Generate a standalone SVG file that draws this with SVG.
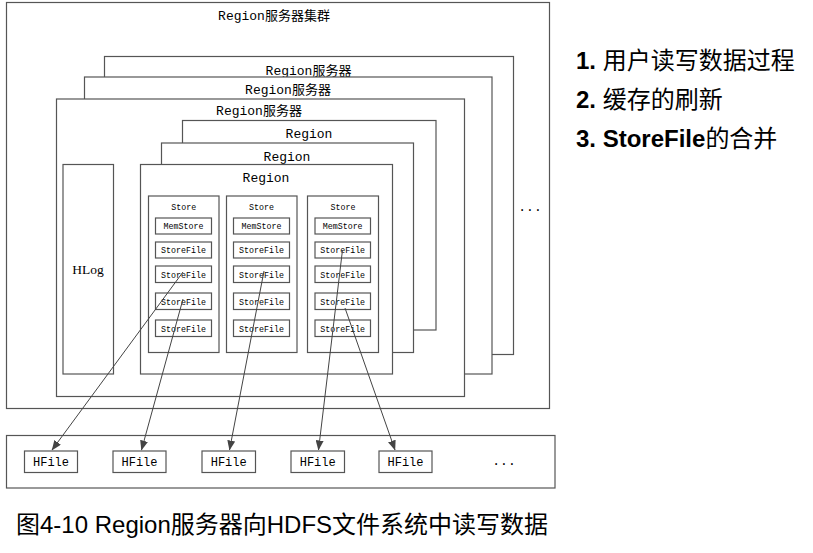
<svg xmlns="http://www.w3.org/2000/svg" width="813" height="553" viewBox="0 0 813 553">
<defs>
<style>
.box{fill:#fff;stroke:#555;stroke-width:1.2}
.t{font-family:"Liberation Mono","Noto Sans CJK SC",monospace;fill:#000;text-anchor:middle}
.lbl{font-size:13px}
.sm{font-size:8.3px}
.hf{font-size:12px}
.conn{stroke:#444;stroke-width:1;fill:none;marker-end:url(#ah)}
.cap{font-family:"Liberation Sans","Noto Sans CJK SC",sans-serif;fill:#000}
.cjk{font-family:"Noto Sans CJK SC",sans-serif;font-weight:normal}
</style>
<marker id="ah" markerUnits="userSpaceOnUse" markerWidth="10" markerHeight="8" refX="9.5" refY="4" orient="auto" viewBox="0 0 10 8"><path d="M0,0 L10,4 L0,8 z" fill="#444"/></marker>
</defs>
<rect width="813" height="553" fill="#fff"/>

<g id="cluster">
<rect class="box" x="6.5" y="2.5" width="543" height="406"/>
<text class="t lbl" x="274" y="20">Region服务器集群</text>
<text class="t lbl" x="530" y="211">...</text>
</g>

<g id="server3">
<rect class="box" x="104.5" y="56.5" width="409" height="298"/>
<text class="t lbl" x="308.5" y="75">Region服务器</text>
</g>
<g id="server2">
<rect class="box" x="84.5" y="77" width="407.5" height="297"/>
<text class="t lbl" x="288" y="94">Region服务器</text>
</g>
<g id="server1">
<rect class="box" x="56.5" y="99" width="408" height="297.5"/>
<text class="t lbl" x="259" y="115">Region服务器</text>
</g>

<g id="hlog">
<rect class="box" x="63" y="164.5" width="50.5" height="209.5"/>
<text x="88" y="273.5" font-family="Liberation Serif, serif" font-size="13.5" text-anchor="middle" fill="#000">HLog</text>
</g>

<g id="region3">
<rect class="box" x="182.5" y="120.5" width="253.5" height="209.5"/>
<text class="t lbl" x="309" y="138">Region</text>
</g>
<g id="region2">
<rect class="box" x="161.5" y="143" width="252" height="209.5"/>
<text class="t lbl" x="287" y="161">Region</text>
</g>
<g id="region1">
<rect class="box" x="140.5" y="164.5" width="252" height="209.5"/>
<text class="t lbl" x="266" y="182">Region</text>
</g>

<g id="store1">
<rect class="box" x="148.5" y="196" width="70.5" height="156.5"/>
<text class="t sm" x="183.7" y="210">Store</text>
<rect class="box" x="155.5" y="218" width="56" height="16"/><text class="t sm" x="183.5" y="229">MemStore</text>
<rect class="box" x="155.5" y="242" width="56" height="16"/><text class="t sm" x="183.5" y="253">StoreFile</text>
<rect class="box" x="155.5" y="266" width="56" height="16.5"/><text class="t sm" x="183.5" y="277.5">StoreFile</text>
<rect class="box" x="155.5" y="293" width="56" height="16.5"/><text class="t sm" x="183.5" y="304.5">StoreFile</text>
<rect class="box" x="155.5" y="320" width="56" height="16.5"/><text class="t sm" x="183.5" y="331.5">StoreFile</text>
</g>
<g id="store2">
<rect class="box" x="226.5" y="196" width="70.5" height="156.5"/>
<text class="t sm" x="261.5" y="210">Store</text>
<rect class="box" x="233.5" y="218" width="56" height="16"/><text class="t sm" x="261.5" y="229">MemStore</text>
<rect class="box" x="233.5" y="242" width="56" height="16"/><text class="t sm" x="261.5" y="253">StoreFile</text>
<rect class="box" x="233.5" y="266" width="56" height="16.5"/><text class="t sm" x="261.5" y="277.5">StoreFile</text>
<rect class="box" x="233.5" y="293" width="56" height="16.5"/><text class="t sm" x="261.5" y="304.5">StoreFile</text>
<rect class="box" x="233.5" y="320" width="56" height="16.5"/><text class="t sm" x="261.5" y="331.5">StoreFile</text>
</g>
<g id="store3">
<rect class="box" x="307.5" y="196" width="71" height="156.5"/>
<text class="t sm" x="343" y="210">Store</text>
<rect class="box" x="315" y="218" width="55.5" height="16"/><text class="t sm" x="342.7" y="229">MemStore</text>
<rect class="box" x="315" y="242" width="55.5" height="16"/><text class="t sm" x="342.7" y="253">StoreFile</text>
<rect class="box" x="315" y="266" width="55.5" height="16.5"/><text class="t sm" x="342.7" y="277.5">StoreFile</text>
<rect class="box" x="315" y="293" width="55.5" height="16.5"/><text class="t sm" x="342.7" y="304.5">StoreFile</text>
<rect class="box" x="315" y="320" width="55.5" height="16.5"/><text class="t sm" x="342.7" y="331.5">StoreFile</text>
</g>

<g id="hdfs">
<rect class="box" x="6.5" y="435.5" width="548.5" height="52.5"/>
<text class="t lbl" x="504" y="465">...</text>
</g>
<g id="hfile1"><rect class="box" x="24.5" y="451" width="53" height="21.5"/><text class="t hf" x="51" y="466">HFile</text></g>
<g id="hfile2"><rect class="box" x="113" y="451" width="53" height="21.5"/><text class="t hf" x="139.5" y="466">HFile</text></g>
<g id="hfile3"><rect class="box" x="202" y="451" width="53.5" height="21.5"/><text class="t hf" x="228.7" y="466">HFile</text></g>
<g id="hfile4"><rect class="box" x="291" y="451" width="53.5" height="21.5"/><text class="t hf" x="317.7" y="466">HFile</text></g>
<g id="hfile5"><rect class="box" x="379" y="451" width="53" height="21.5"/><text class="t hf" x="405.5" y="466">HFile</text></g>

<g id="connectors">
<line class="conn" x1="183" y1="272" x2="52" y2="450"/>
<line class="conn" x1="183" y1="299" x2="141.5" y2="450"/>
<line class="conn" x1="264" y1="271" x2="229.5" y2="450"/>
<line class="conn" x1="342.5" y1="250" x2="318.5" y2="450"/>
<line class="conn" x1="345" y1="308" x2="395" y2="450"/>
</g>

<g id="notes">
<text class="cap" x="576" y="69" font-size="24" font-weight="bold">1. <tspan class="cjk">用户读写数据过程</tspan></text>
<text class="cap" x="576" y="108" font-size="24" font-weight="bold">2. <tspan class="cjk">缓存的刷新</tspan></text>
<text class="cap" x="576" y="147" font-size="24" font-weight="bold">3. StoreFile<tspan class="cjk">的合并</tspan></text>
</g>

<g id="caption">
<text class="cap" x="16" y="533" font-size="24">图4-10 Region服务器向HDFS文件系统中读写数据</text>
</g>
</svg>
